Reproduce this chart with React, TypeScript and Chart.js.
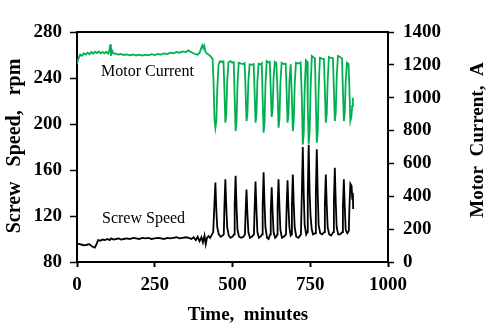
import React, { useEffect, useRef } from "react";
import { Chart, registerables } from "chart.js";

Chart.register(...registerables);

const xTicks = [0, 250, 500, 750, 1000];
const leftTicks = [80, 120, 160, 200, 240, 280];
const rightTicks = [0, 200, 400, 600, 800, 1000, 1200, 1400];

const screwTime = [
  0, 8, 16, 24, 32, 40, 46, 52, 57, 62, 68, 75, 82, 90, 98, 105, 110, 118, 126, 134, 142, 150, 160, 170, 180, 190, 200,
  210, 220, 230, 240, 250, 260, 270, 280, 290, 300, 310, 320, 330, 340, 350, 360, 368, 375, 382, 388, 394, 400, 405,
  410, 414, 418, 423, 428, 434, 438,
  441, 445, 448, 451, 456, 462, 468, 472,
  474, 477, 480, 483, 488, 494, 500, 505,
  507, 510, 513, 516, 521, 528, 535, 540,
  542, 545, 548, 551, 556, 562, 569,
  571, 574, 577, 580, 585, 590, 595,
  597, 600, 603, 606, 611, 616, 621,
  623, 626, 629, 632, 637, 641, 644,
  645, 648, 651, 654, 659, 665, 672,
  674, 677, 680, 683, 687, 690,
  691, 694, 697, 700, 705, 712, 720,
  723, 726, 729, 732, 737, 741,
  742, 745, 748, 751, 755, 759, 766,
  768, 771, 774, 777, 782, 788, 795,
  797, 800, 803, 806, 811, 817, 824,
  826, 829, 832, 835, 840, 846, 853,
  855, 858, 861, 864, 869, 874,
  876, 879, 883, 885, 887, 888,
];
const screwSpeed = [
  96, 95.5, 95, 94.5, 95, 95.5, 94, 93, 92.5, 95, 99, 98.5, 99.5, 99, 100, 99, 100.5, 99.5, 100, 100.5, 99.5, 100, 100.5,
  100, 101, 100.5, 100, 101, 100.5, 101, 100, 100.5, 101, 100.5, 100, 101, 100.5, 101, 101.5, 100.5, 101, 101.5, 101,
  100, 101.5, 99, 102, 98, 101.5, 97, 103, 95.5, 101, 102.5, 101, 104, 106,
  125, 149, 125, 110, 104, 102, 103, 104,
  128, 152, 128, 110, 103, 101, 102, 104,
  130, 155, 128, 108, 102, 101, 102, 104,
  122, 143, 122, 106, 101, 102, 104,
  126, 150, 126, 106, 101, 102, 104,
  130, 158, 130, 110, 101, 100, 104,
  124, 145, 124, 106, 101, 102, 104,
  128, 152, 128, 108, 101, 102, 104,
  127, 151, 127, 110, 103, 104,
  130, 156, 130, 110, 102, 101, 104,
  140, 180, 140, 112, 104, 106,
  140, 182, 140, 120, 108, 104, 105,
  140, 178, 140, 112, 105, 104, 106,
  130, 156, 130, 110, 104, 103, 106,
  132, 162, 132, 110, 104, 104, 106,
  128, 152, 128, 108, 105, 107,
  128, 148, 146, 135, 140, 126,
];

const currentTime = [
  0, 4, 10, 16, 22, 28, 34, 40, 46, 52, 58, 64, 70, 76, 82, 88, 94, 100, 104, 107, 109, 112, 117, 124, 132, 140, 150,
  160, 170, 180, 190, 200, 210, 220, 230, 240, 250, 260, 270, 280, 290, 300, 310, 320, 330, 340, 350, 358, 365, 372,
  380, 388, 394, 399, 403, 406, 409, 413, 418, 424, 430, 436,
  439, 442, 445, 448, 451, 455, 460, 466, 471,
  474, 477, 480, 483, 487, 493, 499, 504,
  507, 510, 513, 516, 520, 528, 535, 539,
  542, 545, 548, 551, 555, 562, 568,
  571, 574, 577, 580, 584, 590, 594,
  597, 600, 603, 606, 610, 616, 620,
  623, 626, 629, 632, 636, 641,
  645, 648, 651, 654, 658, 665, 671,
  674, 677, 680, 683, 687,
  691, 694, 697, 700, 704, 712, 719,
  723, 726, 729, 732, 736, 740,
  742, 745, 748, 751, 755, 761, 765,
  768, 771, 774, 777, 781, 788, 794,
  797, 800, 803, 806, 810, 817, 823,
  826, 829, 832, 835, 839, 846, 852,
  855, 858, 861, 864, 868, 873,
  876, 879, 882, 885, 887,
];
const motorCurrent = [
  1205, 1235, 1262, 1255, 1270, 1262, 1274, 1265, 1278, 1268, 1280, 1272, 1282, 1270, 1278, 1270, 1280, 1268, 1285,
  1325, 1255, 1290, 1270, 1268, 1262, 1266, 1260, 1264, 1258, 1263, 1257, 1262, 1256, 1262, 1258, 1265, 1260, 1266,
  1262, 1270, 1266, 1274, 1270, 1278, 1274, 1282, 1278, 1288, 1280, 1272, 1266, 1262, 1272, 1300, 1318, 1302, 1316,
  1280, 1268, 1262, 1250, 1235,
  1100, 870, 817, 860, 1050, 1200, 1223, 1218, 1222,
  1050, 848, 900, 1100, 1215, 1223, 1214, 1216,
  1000, 797, 860, 1080, 1213, 1208, 1205, 1210,
  1050, 858, 900, 1100, 1203, 1200, 1205,
  1050, 848, 900, 1100, 1207, 1202, 1210,
  1000, 787, 850, 1080, 1223, 1215, 1218,
  1050, 883, 930, 1120, 1218, 1212,
  1030, 817, 870, 1090, 1213, 1205, 1208,
  1040, 848, 900, 1100, 1203,
  1000, 797, 860, 1080, 1213, 1208, 1215,
  1000, 715, 780, 1050, 1228, 1220,
  950, 720, 790, 1050, 1254, 1245, 1240,
  980, 726, 790, 1050, 1243, 1238, 1235,
  1050, 848, 900, 1100, 1248, 1242, 1240,
  1050, 858, 910, 1120, 1254, 1248, 1240,
  1050, 858, 910, 1100, 1213, 1205,
  1050, 858, 880, 950, 1000,
];

const SERIF = "'Liberation Serif', 'Times New Roman', serif";

const overlayPlugin = {
  id: "overlay",
  afterDraw(chart: any) {
    const ctx = chart.ctx as CanvasRenderingContext2D;
    const a = chart.chartArea;
    ctx.save();
    ctx.strokeStyle = "#000";
    ctx.lineWidth = 2;
    ctx.beginPath();
    ctx.moveTo(a.left - 1, a.top);
    ctx.lineTo(a.right + 1, a.top);
    ctx.stroke();

    ctx.fillStyle = "#000";
    ctx.textBaseline = "middle";
    ctx.font = `bold 19px ${SERIF}`;
    ctx.textAlign = "center";
    ctx.fillText("Time,  minutes", 248, 315);

    ctx.save();
    ctx.translate(478, 140);
    ctx.rotate(-Math.PI / 2);
    ctx.fillText("Motor  Current,  A", 0, 0);
    ctx.restore();

    ctx.font = `bold 20px ${SERIF}`;
    ctx.save();
    ctx.translate(15, 146);
    ctx.rotate(-Math.PI / 2);
    ctx.fillText("Screw   Speed,   rpm", 0, 0);
    ctx.restore();

    ctx.font = `16px ${SERIF}`;
    ctx.textAlign = "left";
    ctx.fillText("Motor Current", 101, 72);
    ctx.fillText("Screw Speed", 102, 219);
    ctx.restore();
  },
};

export default function App() {
  const ref = useRef<HTMLCanvasElement | null>(null);
  useEffect(() => {
    if (!ref.current) return;
    const tickFont = { family: SERIF, size: 19, weight: "bold" as const };
    const plain = (v: any) => String(v);
    const chart = new Chart(ref.current, {
      type: "line",
      data: {
        datasets: [
          {
            label: "Motor Current",
            data: currentTime.map((t, i) => ({ x: t, y: motorCurrent[i] })),
            borderColor: "#00B050",
            borderWidth: 1.8,
            pointRadius: 0,
            yAxisID: "y1",
            tension: 0,
            order: 1,
          },
          {
            label: "Screw Speed",
            data: screwTime.map((t, i) => ({ x: t, y: screwSpeed[i] })),
            borderColor: "#000000",
            borderWidth: 1.8,
            pointRadius: 0,
            yAxisID: "y",
            tension: 0,
            order: 2,
          },
        ],
      },
      options: {
        responsive: false,
        animation: false,
        layout: { padding: { top: 32, left: 0, right: 0, bottom: 0 } },
        plugins: { legend: { display: false }, tooltip: { enabled: false } },
        scales: {
          x: {
            type: "linear",
            min: 0,
            max: 1000,
            afterFit: (s: any) => {
              s.height = 67;
            },
            afterBuildTicks: (s: any) => {
              s.ticks = xTicks.map((v) => ({ value: v }));
            },
            grid: { drawOnChartArea: false, drawTicks: true, tickLength: 5, tickColor: "#000", tickWidth: 2 },
            border: { display: true, color: "#000", width: 2 },
            ticks: { color: "#000", font: tickFont, padding: 7, maxRotation: 0, callback: plain },
          },
          y: {
            type: "linear",
            position: "left",
            min: 80,
            max: 280,
            afterFit: (s: any) => {
              s.width = 77;
            },
            afterBuildTicks: (s: any) => {
              s.ticks = leftTicks.map((v) => ({ value: v }));
            },
            grid: { drawOnChartArea: false, drawTicks: true, tickLength: 7, tickColor: "#000", tickWidth: 1.5 },
            border: { display: true, color: "#000", width: 2 },
            ticks: { color: "#000", font: tickFont, padding: 8, callback: plain },
          },
          y1: {
            type: "linear",
            position: "right",
            min: 0,
            max: 1400,
            afterFit: (s: any) => {
              s.width = 104;
            },
            afterBuildTicks: (s: any) => {
              s.ticks = rightTicks.map((v) => ({ value: v }));
            },
            grid: { drawOnChartArea: false, drawTicks: true, tickLength: 6, tickColor: "#000", tickWidth: 1.5 },
            border: { display: true, color: "#000", width: 2 },
            ticks: { color: "#000", font: tickFont, padding: 9, callback: plain },
          },
        },
      },
      plugins: [overlayPlugin],
    });
    return () => chart.destroy();
  }, []);
  return (
    <div style={{ position: "absolute", left: 0, top: 0, width: 492, height: 329, background: "#fff" }}>
      <canvas ref={ref} width={492} height={329} style={{ display: "block" }} />
    </div>
  );
}
